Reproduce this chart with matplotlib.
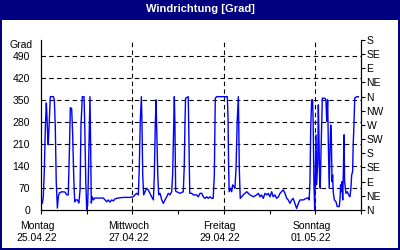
import matplotlib
matplotlib.use("Agg")
import matplotlib.pyplot as plt
from matplotlib.patches import Rectangle
from matplotlib.transforms import ScaledTranslation

# Stunden seit Montag 00:00 und Windrichtung in Grad
hours = [0.0, 0.7, 1.2, 1.7, 2.3, 2.8, 3.1, 3.5, 3.8, 4.2, 4.6, 4.9, 6.5, 7.0,
         7.5, 8.0, 8.6, 9.1, 9.6, 10.9, 12.6, 13.5, 14.3, 14.9, 15.4, 16.1,
         16.6, 17.2, 17.7, 18.2, 19.1, 19.9, 20.5, 21.0, 21.7, 22.6, 22.9,
         23.5, 24.0, 24.5, 24.8, 25.4, 25.7, 26.1, 26.4, 26.9, 27.5, 28.3,
         31.0, 32.7, 33.6, 34.5, 35.3, 36.2, 37.1, 38.0, 38.8, 39.7, 41.5,
         43.2, 45.0, 46.7, 48.5, 49.3, 50.2, 51.1, 51.6, 52.1, 52.7, 53.0,
         53.4, 53.9, 54.6, 55.5, 56.3, 57.2, 58.1, 59.0, 59.5, 60.0, 60.4,
         60.7, 61.3, 61.8, 62.5, 63.4, 64.2, 65.1, 66.0, 66.8, 67.7, 68.6,
         69.1, 69.7, 70.0, 70.3, 70.7, 71.2, 73.0, 74.7, 75.2, 75.6, 75.9,
         77.3, 77.7, 78.1, 79.1, 80.0, 81.7, 82.6, 83.5, 84.4, 85.2, 86.1,
         87.0, 87.8, 88.7, 89.6, 90.4, 91.0, 91.5, 92.2, 97.8, 98.2, 98.5,
         98.8, 99.6, 100.1, 100.6, 101.3, 101.8, 102.4, 103.0, 103.6, 103.8,
         104.1, 104.6, 106.2, 108.0, 109.7, 111.5, 113.2, 114.1, 115.0,
         115.8, 116.7, 117.6, 118.5, 119.3, 120.2, 121.1, 121.9, 122.8,
         123.7, 124.6, 125.5, 127.2, 128.1, 129.0, 129.8, 130.7, 131.6,
         132.4, 133.3, 134.2, 135.1, 136.0, 137.7, 138.6, 140.3, 140.8,
         141.2, 141.6, 142.1, 142.6, 142.9, 143.3, 143.7, 144.0, 144.4,
         144.7, 145.3, 145.6, 145.9, 146.3, 146.6, 147.0, 147.4, 147.7,
         149.1, 149.6, 150.0, 150.5, 150.8, 151.3, 151.7, 152.1, 152.4,
         152.8, 153.1, 153.4, 154.0, 154.9, 155.5, 156.6, 157.0, 157.3,
         157.6, 158.0, 158.4, 158.7, 159.1, 159.4, 160.1, 160.8, 161.5,
         162.2, 162.7, 163.1, 163.6, 163.9, 164.3, 164.7, 165.7, 166.6]
degrees = [38, 21, 42, 118, 265, 340, 302, 239, 207, 264, 325, 360, 360, 350,
           265, 90, 6, 42, 54, 58, 57, 48, 48, 185, 325, 322,
           245, 102, 26, 32, 32, 22, 64, 270, 360, 360, 286,
           95, 0, 16, 86, 277, 360, 185, 22, 42, 32, 38,
           38, 38, 32, 26, 32, 25, 32, 29, 35, 37, 39,
           40, 40, 40, 42, 48, 53, 48, 133, 281, 360, 281,
           111, 48, 58, 69, 64, 53, 42, 32, 111, 270, 350,
           265, 111, 48, 53, 32, 21, 32, 42, 53, 48, 58,
           111, 270, 360, 270, 60, 58, 53, 58, 138, 281, 355,
           360, 207, 53, 53, 48, 48, 42, 53, 53, 42, 37,
           42, 37, 42, 37, 37, 111, 355, 360, 360, 293, 134,
           58, 69, 58, 80, 74, 69, 133, 281, 360, 281,
           133, 37, 48, 58, 48, 42, 48, 53, 42,
           48, 37, 53, 48, 53, 42, 58, 42, 48,
           37, 42, 53, 64, 53, 37, 32, 21, 32,
           37, 21, 5, 21, 32, 32, 35, 39, 32,
           90, 260, 350, 350, 270, 80, 0, 111, 239,
           80, 154, 334, 239, 90, 69, 185, 281, 355,
           355, 350, 281, 350, 228, 69, 185, 270, 239,
           90, 111, 58, 32, 26, 11, 11, 37, 80,
           58, 90, 32, 111, 239, 90, 53, 58, 48,
           42, 69, 111, 122, 207, 270, 355, 360, 360]

dayNames = ["Montag", "Mittwoch", "Freitag", "Sonntag"]
dayDates = ["25.04.22", "27.04.22", "29.04.22", "01.05.22"]
leftTicks = [0, 70, 140, 210, 280, 350, 420, 490]
compassLabels = ["N", "NE", "E", "SE", "S", "SW", "W", "NW",
                 "N", "NE", "E", "SE", "S"]

navy = "#000080"
fontSize = 7.5
plt.rcParams['font.family'] = ['Liberation Sans', 'DejaVu Sans']

fig = plt.figure(figsize=(4, 2.5), dpi=100)
fig.patch.set_facecolor(navy)
fig.patches.append(Rectangle((2/400, 2/250), 396/400, 228/250,
                             transform=fig.transFigure, facecolor="white",
                             edgecolor="none", zorder=-10))
fig.text(0.5, 1 - 9.5/250, "Windrichtung [Grad]", color="white",
         fontsize=8, fontweight="bold", ha="center", va="center")

ax = fig.add_axes([41/400, 40/250, 320/400, 170/250])
ax.set_facecolor("none")
days = [h/24 for h in hours]
ax.plot(days, degrees, color="#0000ff", linewidth=1.0, zorder=3)

ax.set_xlim(0, 7)
ax.set_ylim(0, 540)
ax.set_yticks(leftTicks)
ax.set_yticklabels([str(t) for t in leftTicks], fontsize=fontSize)
ax.set_xticks(range(8))
ax.set_xticklabels(["%s\n%s" % (dayNames[i//2], dayDates[i//2])
                    if i % 2 == 0 and i < 7 else "" for i in range(8)],
                   fontsize=fontSize, linespacing=1.25)
ax.tick_params(axis="both", direction="out", length=3, width=0.8,
               color="black", pad=5)
ax.tick_params(axis="y", length=0, pad=8)
# Beschriftung leicht nach links versetzt wie im Original
shift = ScaledTranslation(-4/100, 0, fig.dpi_scale_trans)
for lbl in ax.get_xticklabels():
    lbl.set_transform(lbl.get_transform() + shift)

for t in leftTicks[1:]:
    ax.axhline(t, color="black", linewidth=0.8, linestyle=(0, (4, 3)),
               zorder=1)
for d in [2, 4, 6]:
    ax.axvline(d, color="black", linewidth=0.8, linestyle=(0, (4, 3)),
               zorder=1)

ax.spines["top"].set_visible(False)
for s in ["left", "bottom", "right"]:
    ax.spines[s].set_linewidth(0.8)
    ax.spines[s].set_color("black")

ax2 = ax.twinx()
ax2.set_ylim(0, 540)
ax2.set_yticks(range(0, 541, 45))
ax2.set_yticklabels(compassLabels, fontsize=fontSize)
ax2.tick_params(axis="y", direction="out", length=3, width=0.8, pad=1)
ax2.spines["top"].set_visible(False)
ax2.spines["right"].set_linewidth(0.8)

ax.text(-0.025, 1.0, "Grad", transform=ax.transAxes, fontsize=fontSize,
        ha="right", va="top")

fig.savefig("out.png", dpi=100, facecolor=navy)
